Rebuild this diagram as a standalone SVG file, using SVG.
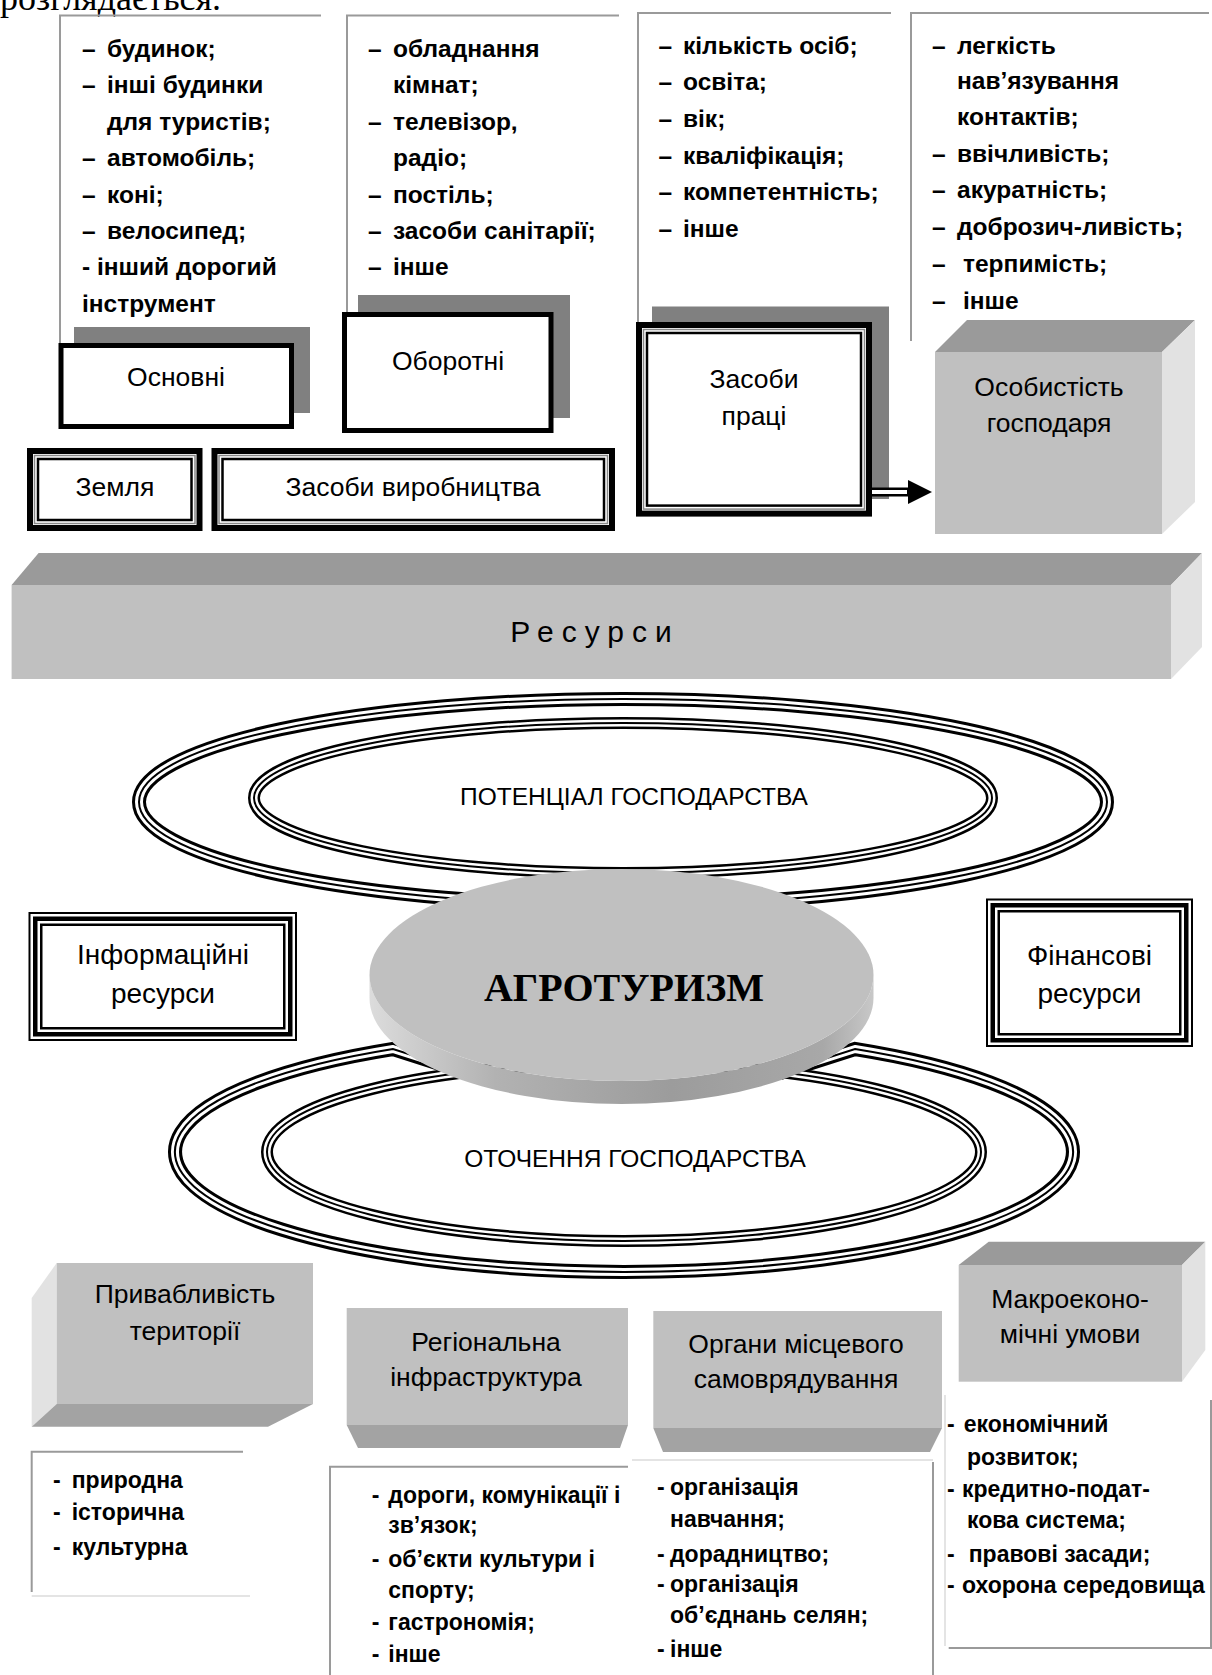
<svg xmlns="http://www.w3.org/2000/svg" width="1212" height="1675" viewBox="0 0 1212 1675">
<defs>
<style>
.t{font-family:"Liberation Sans",Arial,sans-serif;fill:#000}
.lst{font-size:24.5px;font-weight:bold}
.lstb{font-size:23px;font-weight:bold}
.lbl{font-size:26.5px;text-anchor:middle}
.lbl2{font-size:28px;text-anchor:middle}
.frame{stroke:#9a9a9a;stroke-width:2;fill:none}
.faint{stroke:#e4e4e4;stroke-width:2;fill:none}
.front{fill:#c0c0c0}
.topf{fill:#9a9a9a}
.side{fill:#e2e2e2}
.botf{fill:#a3a3a3}
.shadow{fill:#808080}
.thick{fill:#fff;stroke:#000;stroke-width:5}
.o1{fill:#fff;stroke:#000;stroke-width:6}
.o2{fill:none;stroke:#888;stroke-width:1.5}
.o3{fill:none;stroke:#000;stroke-width:2.5}
.r1{fill:#fff;stroke:#000;stroke-width:2}
.r2{fill:none;stroke:#000;stroke-width:4.5}
.r3{fill:none;stroke:#000;stroke-width:2.5}
.e1{fill:none;stroke:#000;stroke-width:14;stroke-linejoin:miter;stroke-miterlimit:10}
.e2{fill:none;stroke:#fff;stroke-width:8;stroke-linejoin:miter;stroke-miterlimit:10}
.e3{fill:none;stroke:#000;stroke-width:2;stroke-linejoin:miter;stroke-miterlimit:10}
.f1{fill:none;stroke:#000;stroke-width:12}
.f2{fill:none;stroke:#fff;stroke-width:7}
</style>
<linearGradient id="rim" x1="0" x2="1" y1="0" y2="0">
<stop offset="0" stop-color="#dcdcdc"/>
<stop offset="0.25" stop-color="#b2b2b2"/>
<stop offset="0.6" stop-color="#9c9c9c"/>
<stop offset="0.9" stop-color="#a8a8a8"/>
<stop offset="1" stop-color="#c8c8c8"/>
</linearGradient>
<marker id="ah" markerUnits="userSpaceOnUse" markerWidth="24" markerHeight="24" viewBox="0 0 24 24" refX="0" refY="12" orient="auto">
<path d="M0,0 L24,12 L0,24 Z" fill="#000"/>
</marker>
</defs>
<rect width="1212" height="1675" fill="#fff"/>

<text x="0" y="9.5" font-family="'Liberation Serif',serif" font-size="36">розглядається.</text>

<!-- top lists -->
<g id="list-osnovni" class="t lst">
<path class="frame" d="M60,344 V15.5 H321"/>
<text x="82" y="57">–</text><text x="107" y="57">будинок;</text>
<text x="82" y="93.4">–</text><text x="107" y="93.4">інші будинки</text>
<text x="107" y="129.8">для туристів;</text>
<text x="82" y="166.2">–</text><text x="107" y="166.2">автомобіль;</text>
<text x="82" y="202.6">–</text><text x="107" y="202.6">коні;</text>
<text x="82" y="239">–</text><text x="107" y="239">велосипед;</text>
<text x="82" y="275.4">- інший дорогий</text>
<text x="82" y="311.8">інструмент</text>
</g>
<g id="list-oborotni" class="t lst">
<path class="frame" d="M347,312 V15.5 H619"/>
<text x="368" y="57">–</text><text x="393" y="57">обладнання</text>
<text x="393" y="93.4">кімнат;</text>
<text x="368" y="129.8">–</text><text x="393" y="129.8">телевізор,</text>
<text x="393" y="166.2">радіо;</text>
<text x="368" y="202.6">–</text><text x="393" y="202.6">постіль;</text>
<text x="368" y="239">–</text><text x="393" y="239">засоби санітарії;</text>
<text x="368" y="275.4">–</text><text x="393" y="275.4">інше</text>
</g>
<g id="list-pratsi" class="t lst">
<path class="frame" d="M638,322 V13 H891"/>
<text x="658.5" y="53.5">–</text><text x="683" y="53.5">кількість осіб;</text>
<text x="658.5" y="90.2">–</text><text x="683" y="90.2">освіта;</text>
<text x="658.5" y="126.9">–</text><text x="683" y="126.9">вік;</text>
<text x="658.5" y="163.6">–</text><text x="683" y="163.6">кваліфікація;</text>
<text x="658.5" y="200.3">–</text><text x="683" y="200.3">компетентність;</text>
<text x="658.5" y="237">–</text><text x="683" y="237">інше</text>
</g>
<g id="list-osobystist" class="t lst">
<path class="frame" d="M911,341 V13 H1209"/>
<text x="932" y="53.5">–</text><text x="957" y="53.5">легкість</text>
<text x="957" y="89">нав’язування</text>
<text x="957" y="125">контактів;</text>
<text x="932" y="161.5">–</text><text x="957" y="161.5">ввічливість;</text>
<text x="932" y="198">–</text><text x="957" y="198">акуратність;</text>
<text x="932" y="235">–</text><text x="957" y="235">доброзич-ливість;</text>
<text x="932" y="272">–</text><text x="963" y="272">терпимість;</text>
<text x="932" y="309">–</text><text x="963" y="309">інше</text>
</g>

<!-- top boxes -->
<g id="osnovni">
<rect class="shadow" x="74" y="327" width="236" height="86"/>
<rect class="thick" x="61" y="345.5" width="230.5" height="81"/>
<text class="t lbl" x="176" y="386">Основні</text>
</g>
<g id="oborotni">
<rect class="shadow" x="358" y="295" width="212" height="123"/>
<rect class="thick" x="344.5" y="314.5" width="206.5" height="116"/>
<text class="t lbl" x="448" y="370">Оборотні</text>
</g>
<g id="zasoby-pratsi">
<rect class="shadow" x="652" y="306.5" width="237" height="192.5"/>
<rect class="o1" x="639" y="325" width="230" height="188.6"/>
<rect class="o2" x="643.5" y="329.5" width="221" height="179.6"/>
<rect class="o3" x="647" y="333" width="214" height="172.6"/>
<text class="t lbl" x="754" y="387.5">Засоби</text>
<text class="t lbl" x="754" y="425">праці</text>
</g>
<g id="zemlia">
<rect class="o1" x="30" y="451" width="169.5" height="77"/>
<rect class="o2" x="34.5" y="455.5" width="160.5" height="68"/>
<rect class="o3" x="38" y="459" width="153.5" height="61"/>
<text class="t lbl" x="115" y="496">Земля</text>
</g>
<g id="zasoby-vyrobnytstva">
<rect class="o1" x="214.5" y="451" width="397.5" height="77"/>
<rect class="o2" x="219" y="455.5" width="388.5" height="68"/>
<rect class="o3" x="222.5" y="459" width="381.5" height="61"/>
<text class="t lbl" x="413" y="496">Засоби виробництва</text>
</g>
<g id="osobystist">
<polygon class="topf" points="935,352 967,320 1195,320 1162,352"/>
<polygon class="side" points="1162,352 1195,320 1195,502 1162,534"/>
<rect class="front" x="935" y="352" width="227" height="182"/>
<text class="t lbl" x="1049" y="396">Особистість</text>
<text class="t lbl" x="1049" y="432">господаря</text>
</g>

<!-- resources bar -->
<g id="resursy">
<polygon class="topf" points="11.6,585 38.6,553 1202,553 1171,585"/>
<polygon class="side" points="1171,585 1202,553 1202,647 1171,679"/>
<rect class="front" x="11.6" y="585" width="1159.4" height="94"/>
<text class="t" x="595" y="642" font-size="30" letter-spacing="8" text-anchor="middle">Ресурси</text>
</g>

<!-- ellipses -->
<g id="potentsial">
<ellipse class="e1" cx="623" cy="802" rx="484" ry="103"/>
<ellipse class="e2" cx="623" cy="802" rx="484" ry="103"/>
<ellipse class="e3" cx="623" cy="802" rx="484" ry="103"/>
<ellipse class="f1" cx="623" cy="798" rx="369" ry="75"/>
<ellipse class="f2" cx="623" cy="798" rx="369" ry="75"/>
<ellipse class="e3" cx="623" cy="798" rx="369" ry="75"/>
<text class="t" x="634" y="805" font-size="24.5" text-anchor="middle">ПОТЕНЦІАЛ ГОСПОДАРСТВА</text>
</g>
<g id="otochennia">
<path class="e1" d="M468,1073 L393,1049 A449,120 0 1 0 855,1049 L780,1073"/>
<path class="e2" d="M468,1073 L393,1049 A449,120 0 1 0 855,1049 L780,1073"/>
<path class="e3" d="M468,1073 L393,1049 A449,120 0 1 0 855,1049 L780,1073"/>
<ellipse class="f1" cx="624" cy="1152" rx="357" ry="89"/>
<ellipse class="f2" cx="624" cy="1152" rx="357" ry="89"/>
<ellipse class="e3" cx="624" cy="1152" rx="357" ry="89"/>
<text class="t" x="635" y="1167" font-size="24.5" text-anchor="middle">ОТОЧЕННЯ ГОСПОДАРСТВА</text>
</g>
<g id="agroturyzm">
<path fill="url(#rim)" d="M369.5,975 A252,106 0 0 0 873.5,975 L873.5,998 A252,106 0 0 1 369.5,998 Z"/>
<ellipse class="front" cx="621.5" cy="975" rx="252" ry="106"/>
<text x="624" y="1001" font-family="'Liberation Serif',serif" font-weight="bold" font-size="40" text-anchor="middle">АГРОТУРИЗМ</text>
</g>

<g id="informatsiini">
<rect class="r1" x="29.5" y="913" width="266.5" height="127"/>
<rect class="r2" x="35.25" y="918.75" width="255" height="115.5"/>
<rect class="r3" x="41.25" y="924.75" width="243" height="103.5"/>
<text class="t lbl2" x="163" y="964">Інформаційні</text>
<text class="t lbl2" x="163" y="1003">ресурси</text>
</g>
<g id="finansovi">
<rect class="r1" x="987" y="899.5" width="205" height="146.5"/>
<rect class="r2" x="992.75" y="905.25" width="193.5" height="135"/>
<rect class="r3" x="998.75" y="911.25" width="181.5" height="123"/>
<text class="t lbl2" x="1089.5" y="965">Фінансові</text>
<text class="t lbl2" x="1089.5" y="1003">ресурси</text>
</g>

<!-- bottom cubes -->
<g id="pryvablyvist">
<polygon class="side" points="56.7,1263 31.7,1298 31.7,1426.7 56.7,1404"/>
<polygon class="botf" points="56.7,1404 313,1404 268,1426.7 31.7,1426.7"/>
<rect class="front" x="56.7" y="1263" width="256.3" height="141"/>
<text class="t lbl" x="185" y="1303">Привабливість</text>
<text class="t lbl" x="185" y="1340">території</text>
</g>
<g id="rehionalna">
<polygon class="botf" points="346.7,1425 628,1425 620,1448 358,1448"/>
<rect class="front" x="346.7" y="1308" width="281.3" height="117"/>
<text class="t lbl" x="486" y="1351">Регіональна</text>
<text class="t lbl" x="486" y="1386">інфраструктура</text>
</g>
<g id="orhany">
<polygon class="botf" points="653.3,1428 942,1428 930,1452 663,1452"/>
<rect class="front" x="653.3" y="1311" width="288.7" height="117"/>
<text class="t lbl" x="796" y="1353">Органи місцевого</text>
<text class="t lbl" x="796" y="1388">самоврядування</text>
</g>
<g id="makro">
<polygon class="topf" points="958.7,1265 988.7,1241.7 1205.3,1241.7 1182,1265"/>
<polygon class="side" points="1182,1265 1205.3,1241.7 1205.3,1350 1182,1381.7"/>
<rect class="front" x="958.7" y="1265" width="223.3" height="116.7"/>
<text class="t lbl" x="1070" y="1308">Макроеконо-</text>
<text class="t lbl" x="1070" y="1343">мічні умови</text>
</g>

<!-- bottom lists -->
<g id="list-pryvablyvist" class="t lstb">
<path class="frame" d="M31.7,1592 V1451.7 H243"/>
<path class="faint" d="M31.7,1596 H250"/>
<text x="53" y="1488">-</text><text x="71.7" y="1488">природна</text>
<text x="53" y="1520">-</text><text x="71.7" y="1520">історична</text>
<text x="53" y="1555">-</text><text x="71.7" y="1555">культурна</text>
</g>
<g id="list-infra" class="t lstb">
<path class="frame" d="M330,1675 V1466.7 H628"/>
<text x="371.7" y="1503">-</text><text x="388.3" y="1503">дороги, комунікації і</text>
<text x="388.3" y="1533">зв’язок;</text>
<text x="371.7" y="1566.7">-</text><text x="388.3" y="1566.7">об’єкти культури і</text>
<text x="388.3" y="1598">спорту;</text>
<text x="371.7" y="1630">-</text><text x="388.3" y="1630">гастрономія;</text>
<text x="371.7" y="1661.7">-</text><text x="388.3" y="1661.7">інше</text>
</g>
<g id="list-orhany" class="t lstb">
<path class="faint" d="M632,1460 H933"/>
<path class="frame" d="M933,1462 V1675"/>
<text x="657" y="1495">-</text><text x="670" y="1495">організація</text>
<text x="670" y="1526.7">навчання;</text>
<text x="657" y="1561.7">-</text><text x="670" y="1561.7">дорадництво;</text>
<text x="657" y="1591.7">-</text><text x="670" y="1591.7">організація</text>
<text x="670" y="1623">об’єднань селян;</text>
<text x="657" y="1656.7">-</text><text x="670" y="1656.7">інше</text>
</g>
<g id="list-makro" class="t lstb">
<path class="faint" d="M945,1395 V1646"/>
<path class="frame" d="M948.7,1648 H1211 V1400"/>
<text x="947" y="1431.7">-</text><text x="963.7" y="1431.7">економічний</text>
<text x="967" y="1465">розвиток;</text>
<text x="947" y="1496.7">-</text><text x="962" y="1496.7">кредитно-подат-</text>
<text x="967" y="1528">кова система;</text>
<text x="947" y="1561.7">-</text><text x="968.7" y="1561.7">правові засади;</text>
<text x="947" y="1593">-</text><text x="962" y="1593">охорона середовища</text>
</g>

<!-- connectors -->
<g id="connectors">
<path d="M872,492 H908" stroke="#000" stroke-width="9" fill="none" marker-end="url(#ah)"/>
<path d="M872,492 H907" stroke="#fff" stroke-width="4" fill="none"/>
</g>
</svg>
